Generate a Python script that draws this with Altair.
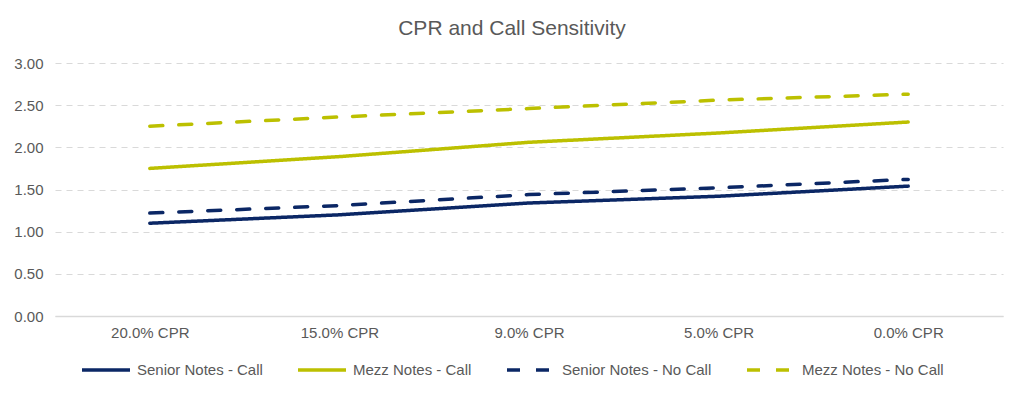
import altair as alt
import pandas as pd

categories = ["20.0% CPR", "15.0% CPR", "9.0% CPR", "5.0% CPR", "0.0% CPR"]
series_names = ["Senior Notes - Call", "Mezz Notes - Call", "Senior Notes - No Call", "Mezz Notes - No Call"]
senior_call = [1.10, 1.20, 1.34, 1.42, 1.54]
mezz_call = [1.75, 1.89, 2.06, 2.17, 2.30]
senior_nocall = [1.22, 1.31, 1.44, 1.52, 1.62]
mezz_nocall = [2.25, 2.36, 2.46, 2.56, 2.63]

colors = ["#0B2765", "#BCC000", "#0B2765", "#BCC000"]
dashes = [[1, 0], [1, 0], [13, 16], [13, 16]]

rows = []
for name, vals in zip(series_names, [senior_call, mezz_call, senior_nocall, mezz_nocall]):
    for c, v in zip(categories, vals):
        rows.append({"cat": c, "series": name, "value": v})
df = pd.DataFrame(rows)

FONT = "Liberation Sans"
GRAY = "#595959"

chart = alt.Chart(df).mark_line(strokeWidth=3.5, strokeCap="round").encode(
    x=alt.X("cat:N", sort=categories, title=None,
            scale=alt.Scale(padding=0.5),
            axis=alt.Axis(labelAngle=0, ticks=False, labelPadding=9, domainColor="#d9d9d9",
                          domainWidth=1.5, labelFontSize=15, labelColor=GRAY, labelFont=FONT, grid=False)),
    y=alt.Y("value:Q", title=None,
            scale=alt.Scale(domain=[0, 3]),
            axis=alt.Axis(values=[0, 0.5, 1, 1.5, 2, 2.5, 3], format=".2f", ticks=False, domain=False,
                          labelPadding=12, labelFontSize=15, labelColor=GRAY, labelFont=FONT,
                          grid=True, gridColor="#d9d9d9", gridDash=[6, 5], gridWidth=1)),
    color=alt.Color("series:N", sort=series_names,
                    scale=alt.Scale(domain=series_names, range=colors),
                    legend=alt.Legend(title=None, orient="none", direction="horizontal",
                                      legendX=25, legendY=281,
                                      symbolType="stroke", symbolSize=2304, symbolStrokeWidth=3.5,
                                      labelFontSize=15, labelColor=GRAY, labelFont=FONT,
                                      labelOffset=5, columnPadding=28)),
    strokeDash=alt.StrokeDash("series:N", sort=series_names,
                              scale=alt.Scale(domain=series_names, range=dashes),
                              legend=alt.Legend(title=None)),
).properties(
    width=948, height=253,
    title=alt.TitleParams("CPR and Call Sensitivity", fontSize=21, font=FONT, color=GRAY,
                          fontWeight="normal", anchor="middle", dx=-17, offset=17),
    autosize=alt.AutoSizeParams(type="none"),
    padding={"left": 47, "top": 55, "right": 13, "bottom": 71},
).configure_view(stroke=None)

chart.save("out.html", embed_options={"renderer": "svg", "actions": False})
